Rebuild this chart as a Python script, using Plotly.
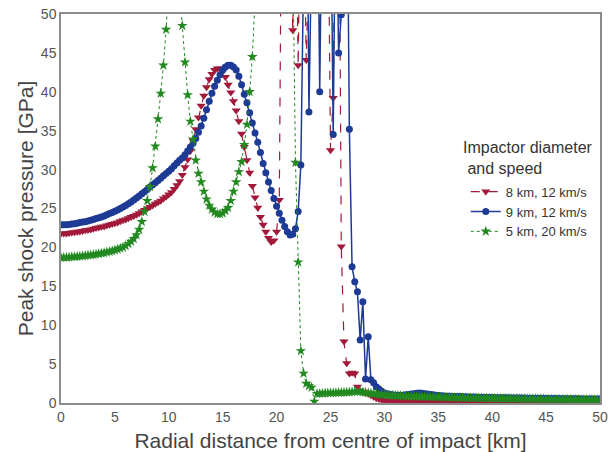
import plotly.graph_objects as go

# Radial sampling grid (km), 0.25 km spacing
radius_km = [round(0.25 * i, 2) for i in range(201)]

# 8 km, 12 km/s
p_8km_12 = [
    21.8, 21.8, 21.8, 21.85, 21.9, 21.95, 22.0, 22.05, 22.1, 22.2, 22.25, 22.3, 22.4, 22.5, 22.55, 22.65, 22.7, 22.8, 22.9, 23.0,
    23.1, 23.2, 23.35, 23.5, 23.6, 23.75, 23.9, 24.05, 24.2, 24.4, 24.6, 24.8, 25.0, 25.2, 25.4, 25.6, 25.8, 26.0, 26.3, 26.5,
    26.8, 27.1, 27.5, 28.0, 28.5, 29.3, 30.3, 31.3, 32.4, 33.7, 35.2, 36.7, 38.2, 39.5, 40.6, 41.6, 42.3, 42.8, 43.0, 43.0,
    42.6, 41.9, 40.9, 39.9, 38.8, 37.6, 36.2, 34.6, 32.9, 31.2, 29.6, 27.9, 26.4, 25.1, 23.9, 22.9, 22.0, 21.2, 20.7, 20.9,
    22.0, 26.1, 75, 90, 80, 65, 47.9, 70, 43.4, 70, 65, 44.1, 70, 80, 85, 80, 75, 70, 80, 70,
    32.5, 39.2, 70, 80, 20.1, 7.9, 5.1, 3.8, 3.9, 3.8, 2.1, 1.6, 1.4, 1.3, 1.2, 1.0, 0.8, 0.6, 0.5, 0.4,
    0.35, 0.32, 0.3, 0.3, 0.29, 0.28, 0.28, 0.27, 0.27, 0.26, 0.26, 0.26, 0.25, 0.25, 0.25, 0.25, 0.24, 0.24, 0.24, 0.24,
    0.23, 0.23, 0.23, 0.23, 0.23, 0.22, 0.22, 0.22, 0.22, 0.22, 0.21, 0.21, 0.21, 0.21, 0.21, 0.2, 0.2, 0.2, 0.2, 0.2,
    0.2, 0.2, 0.2, 0.2, 0.2, 0.2, 0.2, 0.2, 0.2, 0.2, 0.19, 0.19, 0.19, 0.19, 0.19, 0.19, 0.19, 0.19, 0.19, 0.19,
    0.19, 0.19, 0.19, 0.19, 0.19, 0.18, 0.18, 0.18, 0.18, 0.18, 0.18, 0.18, 0.18, 0.18, 0.18, 0.18, 0.18, 0.18, 0.18, 0.18,
    0.18,
]

# 9 km, 12 km/s
p_9km_12 = [
    22.9, 22.9, 22.9, 22.95, 23.0, 23.05, 23.1, 23.2, 23.25, 23.3, 23.4, 23.5, 23.6, 23.7, 23.8, 23.9, 24.05, 24.2, 24.35, 24.5,
    24.65, 24.8, 25.0, 25.2, 25.4, 25.6, 25.85, 26.1, 26.35, 26.6, 26.9, 27.15, 27.45, 27.75, 28.05, 28.3, 28.6, 28.9, 29.2, 29.5,
    29.8, 30.1, 30.5, 30.85, 31.2, 31.5, 31.9, 32.4, 32.9, 33.4, 34.0, 34.8, 35.6, 36.6, 37.7, 38.8, 39.8, 40.7, 41.5, 42.2,
    42.8, 43.2, 43.4, 43.4, 43.2, 42.8, 42.0, 40.9, 39.7, 38.6, 37.3, 36.0, 34.7, 33.5, 32.2, 30.8, 29.6, 28.4, 27.3, 26.3,
    25.3, 24.4, 23.5, 22.7, 22.0, 21.6, 21.7, 22.4, 24.6, 30.6, 70, 80, 37.4, 70, 80, 75, 40.0, 70, 85, 80,
    70, 34.5, 70, 45.0, 49.9, 75, 75, 35.2, 17.5, 15.6, 14.3, 8.1, 13.0, 3.1, 8.5, 3.0, 2.6, 2.1, 1.8, 1.5,
    1.3, 1.2, 1.1, 1.05, 1.0, 1.0, 1.0, 1.0, 1.05, 1.1, 1.15, 1.2, 1.25, 1.3, 1.25, 1.2, 1.15, 1.1, 1.05, 1.0,
    0.95, 0.92, 0.9, 0.88, 0.86, 0.85, 0.84, 0.83, 0.82, 0.8, 0.8, 0.78, 0.77, 0.76, 0.75, 0.74, 0.73, 0.72, 0.71, 0.7,
    0.7, 0.69, 0.68, 0.68, 0.67, 0.66, 0.66, 0.65, 0.65, 0.64, 0.64, 0.63, 0.63, 0.62, 0.62, 0.61, 0.61, 0.6, 0.6, 0.6,
    0.59, 0.59, 0.58, 0.58, 0.57, 0.57, 0.56, 0.56, 0.55, 0.55, 0.55, 0.54, 0.54, 0.53, 0.53, 0.52, 0.52, 0.52, 0.51, 0.51,
    0.5,
]

# 5 km, 20 km/s
p_5km_20 = [
    18.7, 18.7, 18.72, 18.74, 18.77, 18.8, 18.83, 18.86, 18.9, 18.94, 18.98, 19.02, 19.07, 19.12, 19.18, 19.24, 19.3, 19.38, 19.46, 19.55,
    19.65, 19.75, 19.88, 20.0, 20.2, 20.45, 20.75, 21.1, 21.6, 22.3, 23.3, 24.6, 26.0, 27.8, 30.2, 33.0, 36.5, 39.8, 43.4, 48.0,
    55, 62, 66, 60, 53, 48.5, 43.8, 39.6, 36.2, 33.9, 31.2, 29.5, 28.4, 27.2, 26.2, 25.4, 24.9, 24.5, 24.3, 24.3,
    24.4, 24.7, 25.1, 26.0, 27.2, 28.4, 29.7, 31.0, 33.2, 35.8, 40.0, 44.5, 52, 60, 70, 80, 85, 90, 90, 85,
    80, 80, 75, 70, 70, 65, 58, 30.9, 18.1, 6.7, 3.8, 2.5, 2.2, 2.0, 0.2, 1.2, 1.22, 1.24, 1.26, 1.28,
    1.3, 1.3, 1.32, 1.34, 1.35, 1.36, 1.38, 1.4, 1.42, 1.45, 1.48, 1.45, 1.4, 1.35, 1.3, 1.25, 1.2, 1.15, 1.1, 1.08,
    1.05, 1.02, 1.0, 0.98, 0.96, 0.94, 0.92, 0.9, 0.89, 0.88, 0.87, 0.86, 0.85, 0.84, 0.83, 0.82, 0.81, 0.8, 0.79, 0.78,
    0.77, 0.76, 0.75, 0.74, 0.73, 0.72, 0.71, 0.7, 0.69, 0.68, 0.67, 0.66, 0.66, 0.65, 0.65, 0.64, 0.63, 0.63, 0.62, 0.62,
    0.61, 0.6, 0.6, 0.59, 0.58, 0.58, 0.57, 0.57, 0.56, 0.55, 0.55, 0.54, 0.54, 0.53, 0.53, 0.52, 0.52, 0.51, 0.51, 0.5,
    0.5, 0.5, 0.49, 0.49, 0.48, 0.48, 0.47, 0.47, 0.46, 0.46, 0.46, 0.45, 0.45, 0.44, 0.44, 0.44, 0.43, 0.43, 0.43, 0.42,
    0.42,
]

series_names = ["8 km, 12 km/s", "9 km, 12 km/s", "5 km, 20 km/s"]
x_ticks = [0, 5, 10, 15, 20, 25, 30, 35, 40, 45, 50]
y_ticks = [0, 5, 10, 15, 20, 25, 30, 35, 40, 45, 50]

RED = "#A3193A"
BLUE = "#1D3A95"
GREEN = "#21891F"

fig = go.Figure()
fig.add_trace(go.Scatter(
    x=radius_km, y=p_8km_12, name=series_names[0], mode="lines+markers",
    line=dict(color=RED, width=1.2, dash="dash"),
    marker=dict(symbol="triangle-down", size=8, color=RED),
))
fig.add_trace(go.Scatter(
    x=radius_km, y=p_9km_12, name=series_names[1], mode="lines+markers",
    line=dict(color=BLUE, width=1.5),
    marker=dict(symbol="circle", size=7, color=BLUE),
))
fig.add_trace(go.Scatter(
    x=radius_km, y=p_5km_20, name=series_names[2], mode="lines+markers",
    line=dict(color=GREEN, width=1, dash="dot"),
    marker=dict(symbol="star", size=8, color=GREEN),
))

axis_common = dict(
    showgrid=False, zeroline=False, ticks="", showline=True, automargin=False,
    linecolor="#8c8c8c", linewidth=1.5, mirror=True, ticklabeloverflow="allow",
    tickfont=dict(family="Liberation Sans, Arial, sans-serif", size=14, color="#555555"),
)

# page body has an 8 px default margin, so the figure is 8 px smaller
fig.update_layout(
    width=608, height=444,
    margin=dict(l=53, r=16, t=6, b=49),
    paper_bgcolor="white", plot_bgcolor="white",
    font=dict(family="Liberation Sans, Arial, sans-serif", color="#444444"),
    xaxis=dict(range=[0, 50], tickvals=x_ticks, title=dict(
        text="Radial distance from centre of impact [km]", standoff=10,
        font=dict(size=21, color="#444444")), **axis_common),
    yaxis=dict(range=[0, 50], tickvals=y_ticks, title=dict(
        text="Peak shock pressure [GPa]", standoff=2,
        font=dict(size=21, color="#444444")), **axis_common),
    showlegend=True,
    legend=dict(x=0.751, y=0.582, xanchor="left", yanchor="top",
                bgcolor="rgba(255,255,255,0)",
                font=dict(size=13, color="#333333")),
    annotations=[dict(
        text="Impactor diameter<br> and speed", xref="paper", yref="paper",
        x=0.743, y=0.685, xanchor="left", yanchor="top", align="left",
        showarrow=False, font=dict(size=16, color="#333333"),
    )],
)

fig.write_html("out.html")
